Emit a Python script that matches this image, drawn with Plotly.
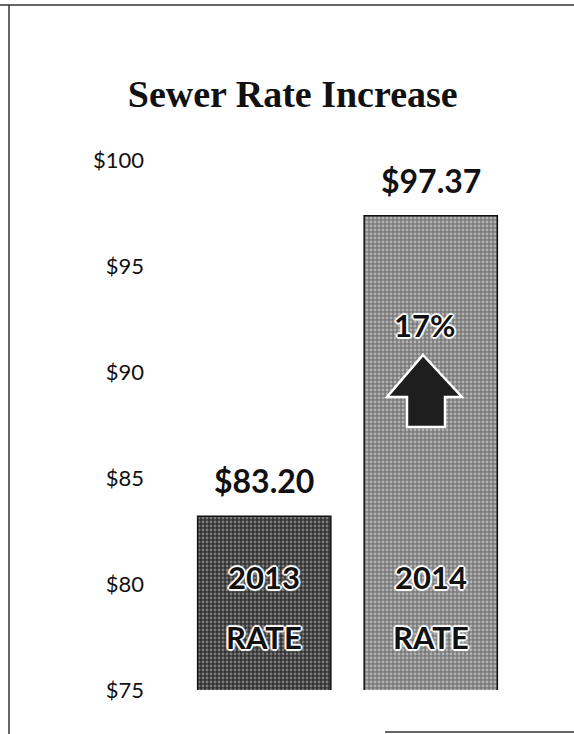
import plotly.graph_objects as go

# ---- data ----
categories = ["2013", "2014"]
rates = [83.20, 97.37]
value_labels = ["$83.20", "$97.37"]
bar_labels = [["2013", "RATE"], ["2014", "RATE"]]
increase_label = "17%"
tick_vals = [75, 80, 85, 90, 95, 100]
tick_text = ["$75", "$80", "$85", "$90", "$95", "$100"]
title = "Sewer Rate Increase"

# styles
bar_bg = ["#333333", "#7a7a7a"]
bar_fg = ["#c4c4c4", "#ececec"]

W, H = 574, 734
L, R, T, B = 181, 60, 160, 44
PW, PH = W - L - R, H - T - B


def px(x):
    return (x - L) / PW


def py(y):
    return (H - B - y) / PH


fig = go.Figure()
for c, v, bg, fg in zip(categories, rates, bar_bg, bar_fg):
    fig.add_trace(go.Bar(
        x=[c],
        y=[v],
        marker=dict(
            color=bg,
            line=dict(color="#111111", width=1.5),
            pattern=dict(shape=".", bgcolor=bg, fgcolor=fg, size=4, solidity=0.4),
        ),
        hoverinfo="skip",
    ))

shadow = ("2px 0 1px white, -2px 0 1px white, 0 2px 1px white, 0 -2px 1px white, "
          "1px 1px 1px white, -1px -1px 1px white, 1px -1px 1px white, -1px 1px 1px white")

ann = []
for i, (v, t) in enumerate(zip(rates, value_labels)):
    ann.append(dict(x=i, y=v, xref="x", yref="y", text=f"<b>{t}</b>", showarrow=False,
                    xanchor="center", yanchor="bottom", yshift=14,
                    font=dict(family="Lato", size=32, color="#111111")))
for i, (a, b) in enumerate(bar_labels):
    ann.append(dict(x=i, y=py(577), xref="x", yref="paper", text=f"<b>{a}</b>", showarrow=False,
                    xanchor="center", yanchor="middle",
                    font=dict(family="Lato", size=31, color="#111111", shadow=shadow)))
    ann.append(dict(x=i, y=py(637), xref="x", yref="paper", text=f"<b>{b}</b>", showarrow=False,
                    xanchor="center", yanchor="middle",
                    font=dict(family="Lato", size=31, color="#111111", shadow=shadow)))
ann.append(dict(x=px(424), y=py(325), xref="paper", yref="paper", text=f"<b>{increase_label}</b>",
                showarrow=False, xanchor="center", yanchor="middle",
                font=dict(family="Lato", size=31, color="#111111", shadow=shadow)))

# arrow path in plot-paper coordinates
pts = [(423, 355), (462, 397), (445, 397), (445, 427), (407, 427), (407, 397), (387, 397)]
path = "M " + " L ".join(f"{px(x):.4f},{py(y):.4f}" for x, y in pts) + " Z"

shapes = [
    dict(type="path", path=path, xref="paper", yref="paper",
         fillcolor="#1e1e1e", line=dict(color="white", width=2.5)),
]

fig.update_layout(
    width=W, height=H,
    margin=dict(l=L, r=R, t=T, b=B),
    paper_bgcolor="white", plot_bgcolor="white",
    barmode="overlay",
    bargap=0.2,
    showlegend=False,
    title=dict(text=f"<b>{title}</b>", x=0.51, xref="container", xanchor="center",
               y=1 - 94 / H, yref="container", yanchor="middle",
               font=dict(family="Liberation Serif", size=38, color="#111111")),
    xaxis=dict(type="category", categoryorder="array", categoryarray=categories,
               range=[-0.5, 1.5], showticklabels=False, showgrid=False, zeroline=False,
               showline=False, ticks=""),
    yaxis=dict(range=[75, 100], tickvals=tick_vals, ticktext=tick_text,
               showgrid=False, zeroline=False, showline=False, ticks="",
               ticklabelstandoff=36,
               tickfont=dict(family="Lato", size=22, color="#111111")),
    annotations=ann,
    shapes=shapes,
)

# page frame lines (scan border)
fig.add_shape(type="line", xref="paper", yref="paper", x0=px(0), x1=px(W), y0=py(5), y1=py(5),
              line=dict(color="#333333", width=1.5), layer="above")
fig.add_shape(type="line", xref="paper", yref="paper", x0=px(9), x1=px(9), y0=py(5), y1=py(H),
              line=dict(color="#333333", width=1.5), layer="above")
fig.add_shape(type="line", xref="paper", yref="paper", x0=px(385), x1=px(W), y0=py(732), y1=py(732),
              line=dict(color="#666666", width=2), layer="above")

fig.write_html("out.html", config={"displayModeBar": False},
               post_script="document.body.style.margin='0';")
